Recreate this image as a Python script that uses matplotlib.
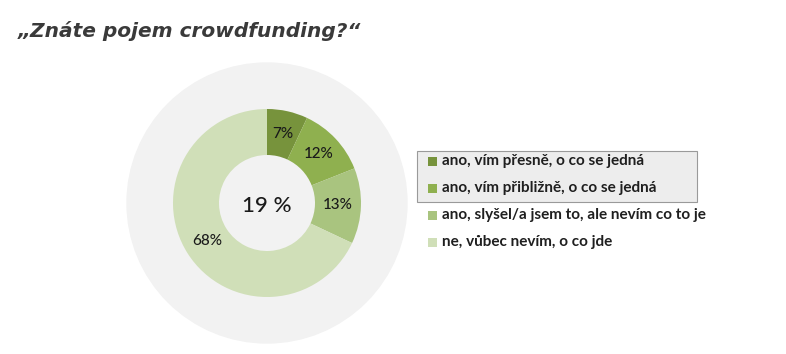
import matplotlib
matplotlib.use("Agg")
import matplotlib.pyplot as plt
from matplotlib.patches import Circle, Rectangle

title = "\u201eZnáte pojem crowdfunding?\u201c"
categories = ["ano, vím přesně, o co se jedná",
              "ano, vím přibližně, o co se jedná",
              "ano, slyšel/a jsem to, ale nevím co to je",
              "ne, vůbec nevím, o co jde"]
values = [7, 12, 13, 68]
center_label = "19 %"
colors = ["#77933C", "#8FB04F", "#A9C47F", "#D0DFB8"]

W, H = 786, 354
fig = plt.figure(figsize=(W / 100, H / 100), dpi=100)
ax = fig.add_axes([0, 0, 1, 1])

cx, cy = 267, H - 203
ax.add_patch(Circle((cx, cy), 140, color="#F2F2F2", zorder=0))

wedges, texts, autotexts = ax.pie(values, colors=colors, startangle=90, counterclock=False,
                                  center=(cx, cy), radius=94, frame=True,
                                  wedgeprops=dict(width=46, linewidth=0),
                                  autopct="%d%%", pctdistance=0.755,
                                  textprops=dict(fontsize=11, color="#1a1a1a", family="Lato",
                                                 fontweight="medium"))
ax.set_xlim(0, W)
ax.set_ylim(0, H)
ax.set_aspect("equal")
ax.axis("off")

ax.text(cx, cy - 3, center_label, ha="center", va="center", fontsize=16, color="#1a1a1a",
        family="Lato", fontweight="medium")

fig.text(18 / W, 1 - 31 / H, title, fontsize=14.5, fontweight="bold", style="italic",
         color="#3a3a3a", family="DejaVu Sans", va="center", ha="left")

# selection box behind first two legend items
ax.add_patch(Rectangle((417, H - 202), 280, 51, facecolor="#EDEDED", edgecolor="#9A9A9A",
                       linewidth=0.8, zorder=1))
ys = [161, 188, 215, 242]
for cat, col, y in zip(categories, colors, ys):
    ax.add_patch(Rectangle((428, H - y - 4.5), 9, 9, facecolor=col, edgecolor="none", zorder=2))
    ax.text(442, H - y, cat, fontsize=11, color="#1f1f1f", family="Lato", fontweight="bold",
            va="center", ha="left", zorder=3)

fig.savefig("out.png", dpi=100)
